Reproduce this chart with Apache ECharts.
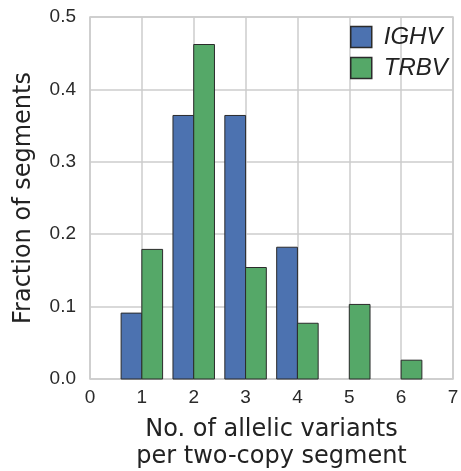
<!DOCTYPE html>
<html>
<head>
<meta charset="utf-8">
<script src="https://cdn.jsdelivr.net/npm/echarts@6/dist/echarts.min.js"></script>
<style>
  html, body { margin: 0; padding: 0; background: #fff; }
  #chart { width: 461px; height: 471px; }
</style>
</head>
<body>
<div id="chart"></div>
<script>
// number of allelic variants per two-copy segment
const variantCounts = [1, 2, 3, 4, 5, 6];
// fraction of segments
const ighvValues = [0.091, 0.364, 0.364, 0.182, null, null];
const trbvValues = [0.179, 0.462, 0.154, 0.077, 0.103, 0.026];
const seriesNames = ['IGHV', 'TRBV'];

const blue = '#4c72b0';
const green = '#55a868';
const edge = '#2b2b2b';
const barW = 0.4;

const chart = echarts.init(document.getElementById('chart'));

function makeData(vals) {
  return variantCounts
    .map((c, i) => [c, vals[i]])
    .filter(d => d[1] != null);
}

function barRenderer(offset, color) {
  return function (params, api) {
    const x = api.value(0);
    const y = api.value(1);
    const p0 = api.coord([x + offset, y]);
    const p1 = api.coord([x + offset + barW, 0]);
    return {
      type: 'rect',
      shape: { x: p0[0], y: p0[1], width: p1[0] - p0[0], height: p1[1] - p0[1] },
      style: { fill: color, stroke: edge, lineWidth: 1 }
    };
  };
}

const option = {
  animation: false,
  grid: {
    left: 90,
    right: 8,
    top: 17,
    bottom: 92,
    outerBoundsMode: 'none',
    show: true,
    borderColor: '#cccccc',
    borderWidth: 1.5
  },
  legend: {
    orient: 'vertical',
    left: 350,
    top: 25,
    padding: 0,
    itemWidth: 21,
    itemHeight: 21,
    itemGap: 7,
    icon: 'rect',
    textStyle: {
      fontFamily: 'Arial',
      fontStyle: 'italic',
      fontSize: 24,
      lineHeight: 21,
      color: '#222',
      padding: [0, 0, 0, 7]
    },
    data: [
      { name: seriesNames[0], itemStyle: { color: blue, borderColor: edge, borderWidth: 1.5 } },
      { name: seriesNames[1], itemStyle: { color: green, borderColor: edge, borderWidth: 1.5 } }
    ]
  },
  xAxis: {
    type: 'value',
    min: 0,
    max: 7,
    interval: 1,
    name: 'No. of allelic variants\nper two-copy segment',
    nameLocation: 'middle',
    nameGap: 37,
    nameTextStyle: { fontFamily: 'DejaVu Sans', fontSize: 24, color: '#222', lineHeight: 27 },
    axisLine: { show: false },
    axisTick: { show: false },
    axisLabel: { fontFamily: 'Arial', fontSize: 19, color: '#2a2a2a', margin: 9 },
    splitLine: { show: true, lineStyle: { color: '#cccccc', width: 1.5 } }
  },
  yAxis: {
    type: 'value',
    min: 0,
    max: 0.5,
    interval: 0.1,
    name: 'Fraction of segments',
    nameLocation: 'middle',
    nameGap: 54,
    nameTextStyle: { fontFamily: 'DejaVu Sans', fontSize: 24, color: '#222' },
    axisLine: { show: false },
    axisTick: { show: false },
    axisLabel: {
      fontFamily: 'Arial',
      fontSize: 19,
      color: '#2a2a2a',
      margin: 14,
      formatter: v => v.toFixed(1)
    },
    splitLine: { show: true, lineStyle: { color: '#cccccc', width: 1.5 } }
  },
  series: [
    {
      name: seriesNames[0],
      type: 'custom',
      renderItem: barRenderer(-barW, blue),
      itemStyle: { color: blue },
      encode: { x: 0, y: 1 },
      data: makeData(ighvValues)
    },
    {
      name: seriesNames[1],
      type: 'custom',
      renderItem: barRenderer(0, green),
      itemStyle: { color: green },
      encode: { x: 0, y: 1 },
      data: makeData(trbvValues)
    }
  ]
};

chart.setOption(option);
</script>
</body>
</html>
